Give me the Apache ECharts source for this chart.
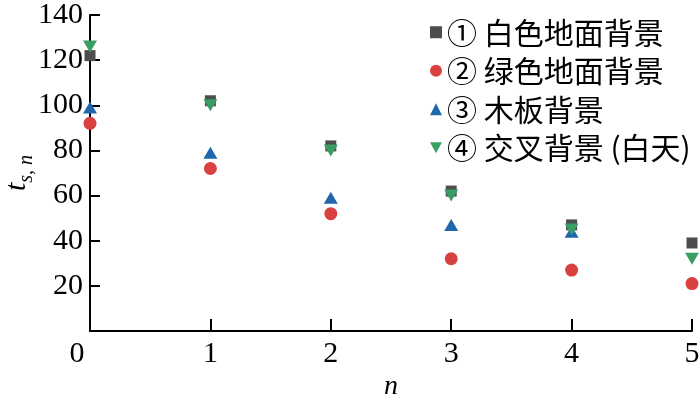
<!DOCTYPE html>
<html>
<head>
<meta charset="utf-8">
<script src="https://cdn.jsdelivr.net/npm/echarts@6/dist/echarts.min.js"></script>
<style>html,body{margin:0;padding:0;background:#fff;}#c{width:700px;height:400px;}</style>
</head>
<body>
<div id="c"></div>
<script>
const xValues = [0, 1, 2, 3, 4, 5];
const seriesNames = ['① 白色地面背景', '② 绿色地面背景', '③ 木板背景', '④ 交叉背景 (白天)'];
const whiteGround = [122, 102, 82, 62, 47, 39];
const greenGround = [92, 72, 52, 32, 27, 21];
const woodBoard = [99, 79, 59, 47, 44, null];
const crossDay = [126, 100, 80, 60, 45, 32];
const yTicks = [0, 20, 40, 60, 80, 100, 120, 140];

const serif = 'Liberation Serif, Times New Roman, serif';
const cjk = 'Noto Sans CJK SC, sans-serif';
const colors = ['#4d4d4d', '#d94040', '#2166ad', '#3a9d64'];

function pairs(arr) {
  return xValues.map((x, i) => [x, arr[i]]).filter(p => p[1] !== null);
}

const chart = echarts.init(document.getElementById('c'), null, {renderer: 'canvas'});
chart.setOption({
  animation: false,
  backgroundColor: '#fff',
  grid: {left: 90, right: 8, top: 15, bottom: 69, containLabel: false, outerBoundsMode: 'none'},
  xAxis: {
    type: 'value', min: 0, max: 5, interval: 1,
    name: 'n', nameLocation: 'middle', nameGap: 42, nameMoveOverlap: false,
    nameTextStyle: {fontFamily: serif, fontStyle: 'italic', fontSize: 28, color: '#000'},
    axisLine: {lineStyle: {color: '#000', width: 2}},
    axisTick: {inside: true, length: 12, lineStyle: {color: '#000', width: 2}},
    axisLabel: {
      fontFamily: serif, fontSize: 30, color: '#000', margin: 8,
      formatter: v => v === 0 ? '{z|0}' : String(v),
      rich: {z: {fontFamily: serif, fontSize: 30, color: '#000', padding: [0, 26, 0, 0]}}
    },
    splitLine: {show: false}
  },
  yAxis: {
    type: 'value', min: yTicks[0], max: yTicks[yTicks.length - 1], interval: 20,
    name: '{t|t}{s|s, n}', nameLocation: 'middle', nameGap: 53, nameRotate: 90, nameMoveOverlap: false,
    nameTextStyle: {
      rich: {
        t: {fontFamily: serif, fontStyle: 'italic', fontSize: 30, color: '#000', lineHeight: 40, verticalAlign: 'middle'},
        s: {fontFamily: serif, fontStyle: 'italic', fontSize: 20, color: '#000', lineHeight: 20, verticalAlign: 'bottom'}
      }
    },
    axisLine: {show: true, lineStyle: {color: '#000', width: 2}},
    axisTick: {show: true, inside: true, length: 10, lineStyle: {color: '#000', width: 2}},
    axisLabel: {fontFamily: serif, fontSize: 30, color: '#000', margin: 7, showMinLabel: false},
    splitLine: {show: false}
  },
  legend: {
    orient: 'vertical', left: 425, top: 8,
    itemWidth: 12, itemHeight: 12, itemGap: 0,
    textStyle: {fontFamily: cjk, fontSize: 30, color: '#000', lineHeight: 38.5},
    data: [
      {name: seriesNames[0], icon: 'rect'},
      {name: seriesNames[1], icon: 'circle'},
      {name: seriesNames[2], icon: 'triangle'},
      {name: seriesNames[3], icon: 'path://M0,0 L10,0 L5,9 Z'}
    ]
  },
  series: [
    {name: seriesNames[0], type: 'scatter', data: pairs(whiteGround), symbol: 'rect', symbolSize: 11, itemStyle: {color: colors[0], opacity: 1}, clip: true},
    {name: seriesNames[1], type: 'scatter', data: pairs(greenGround), symbol: 'circle', symbolSize: 13, itemStyle: {color: colors[1], opacity: 1}, clip: true},
    {name: seriesNames[2], type: 'scatter', data: pairs(woodBoard), symbol: 'triangle', symbolSize: [14, 12], itemStyle: {color: colors[2], opacity: 1}, clip: true},
    {name: seriesNames[3], type: 'scatter', data: pairs(crossDay), symbol: 'triangle', symbolRotate: 180, symbolSize: [14, 12], itemStyle: {color: colors[3], opacity: 1}, clip: true}
  ]
});
</script>
</body>
</html>
